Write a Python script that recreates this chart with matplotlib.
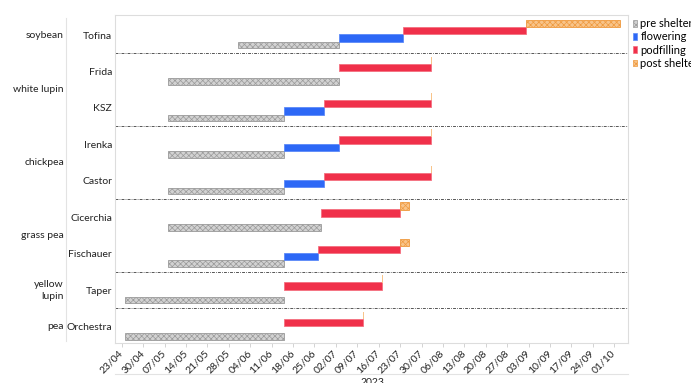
import pandas as pd
import matplotlib.pyplot as plt
import matplotlib.dates as mdates
import matplotlib.transforms as mtransforms
from matplotlib.patches import Patch
from matplotlib.lines import Line2D

plt.rcParams['font.family'] = ['Lato', 'DejaVu Sans']
plt.rcParams['hatch.linewidth'] = 0.5

# ── Phase dates per variety (top to bottom) ───────────────────────────────
varieties = ['Tofina', 'Frida', 'KSZ', 'Irenka', 'Castor',
             'Cicerchia', 'Fischauer', 'Taper', 'Orchestra']
pre_start = ['2023-05-31', '2023-05-08', '2023-05-08', '2023-05-08', '2023-05-08',
             '2023-05-08', '2023-05-08', '2023-04-24', '2023-04-24']
pre_end = ['2023-07-03', '2023-07-03', '2023-06-15', '2023-06-15', '2023-06-15',
           '2023-06-27', '2023-06-15', '2023-06-15', '2023-06-15']
flower_end = ['2023-07-24', '2023-07-03', '2023-06-28', '2023-07-03', '2023-06-28',
              '2023-06-27', '2023-06-26', '2023-06-15', '2023-06-15']
pod_end = ['2023-09-02', '2023-08-02', '2023-08-02', '2023-08-02', '2023-08-02',
           '2023-07-23', '2023-07-23', '2023-07-17', '2023-07-11']
post_end = ['2023-10-03', '2023-08-02', '2023-08-02', '2023-08-02', '2023-08-02',
            '2023-07-26', '2023-07-26', '2023-07-17', '2023-07-11']

# crop groups: (name, first row, last row)
groups = [('soybean', 0, 0), ('white lupin', 1, 2), ('chickpea', 3, 4),
          ('grass pea', 5, 6), ('yellow\nlupin', 7, 7), ('pea', 8, 8)]
separators = [0.5, 2.5, 4.5, 6.5, 7.5]

tick_dates = pd.date_range('2023-04-23', '2023-10-01', freq='7D')

phases = {
    'pre shelter':  dict(fc='#d2d2d2', ec='#9a9a9a', hatch='xxxxxx', off=0.275, h=0.18),
    'flowering':    dict(fc='#2d68f6', ec='#5c8af8', hatch=None, off=0.083, h=0.2),
    'podfilling':   dict(fc='#f0304a', ec='#f4707f', hatch=None, off=-0.117, h=0.2),
    'post shelter': dict(fc='#f8c48a', ec='#ef9a3f', hatch='xxxxxx', off=-0.31, h=0.2),
}

def num(dates):
    return mdates.date2num(pd.to_datetime(dates))

starts = {'pre shelter': num(pre_start), 'flowering': num(pre_end),
          'podfilling': num(flower_end), 'post shelter': num(pod_end)}
ends = {'pre shelter': num(pre_end), 'flowering': num(flower_end),
        'podfilling': num(pod_end), 'post shelter': num(post_end)}

fig = plt.figure(figsize=(6.91, 3.83), dpi=100)
ax = fig.add_axes([115 / 691, 40 / 383, 513 / 691, 328 / 383])

rows = range(len(varieties))
for name, st in phases.items():
    s, e = starts[name], ends[name]
    for i in rows:
        w = e[i] - s[i]
        if w <= 0:
            # zero-length post shelter phase still shows as a hairline
            if name != 'post shelter':
                continue
            ax.barh(i + st['off'], 0.3, left=s[i], height=st['h'],
                    color='#f8c48a', linewidth=0)
            continue
        ax.barh(i + st['off'], w, left=s[i], height=st['h'],
                facecolor=st['fc'], edgecolor=st['ec'], hatch=st['hatch'],
                linewidth=0.6)

for y in separators:
    ax.axhline(y, color='#555555', linewidth=0.7, dashes=(3, 1.2, 0.8, 1.2))

t0 = num(['2023-04-23'])[0]
ax.set_xlim(t0 - 2.2, t0 + 165.5)
ax.set_ylim(len(varieties) - 0.55, -0.55)

ax.set_xticks(num(tick_dates))
ax.xaxis.set_major_formatter(mdates.DateFormatter('%d/%m'))
plt.setp(ax.get_xticklabels(), rotation=45, ha='right', va='center',
         rotation_mode='anchor', fontsize=7.5, color='#222222')
ax.tick_params(axis='x', length=3, width=0.6, color='#cccccc', pad=3)

ax.set_yticks(list(rows))
ax.set_yticklabels(varieties, fontsize=7.5, color='#222222')
ax.tick_params(axis='y', length=0, pad=2)

for sp in ax.spines.values():
    sp.set_color('#dddddd')
    sp.set_linewidth(0.8)

# group labels left of the variety names
trans = mtransforms.blended_transform_factory(fig.transFigure, ax.transData)
for name, a, b in groups:
    ax.text(64 / 691, (a + b) / 2, name, transform=trans, ha='right', va='center',
            fontsize=7.5, color='#222222', linespacing=1.4)

fig.add_artist(Line2D([66 / 691, 66 / 691], [1 - 18 / 383, 1 - 341 / 383],
                      color='#e3e3e3', linewidth=0.8))
fig.add_artist(Line2D([115 / 691, 628 / 691], [1 - 374 / 383, 1 - 374 / 383],
                      color='#e3e3e3', linewidth=0.8))
fig.text(372 / 691, 1 - 378 / 383, '2023', ha='center', va='top',
         fontsize=7.5, color='#222222')

handles = [Patch(facecolor=st['fc'], edgecolor=st['ec'], hatch=st['hatch'], linewidth=0.5)
           for st in phases.values()]
fig.legend(handles, list(phases.keys()), loc='upper left',
           bbox_to_anchor=(631 / 691, 1 - 16 / 383), frameon=False, fontsize=8,
           handlelength=0.35, handleheight=0.55, handletextpad=0.3,
           labelspacing=0.2, borderpad=0.2, borderaxespad=0)

fig.savefig('out.png', dpi=100)
